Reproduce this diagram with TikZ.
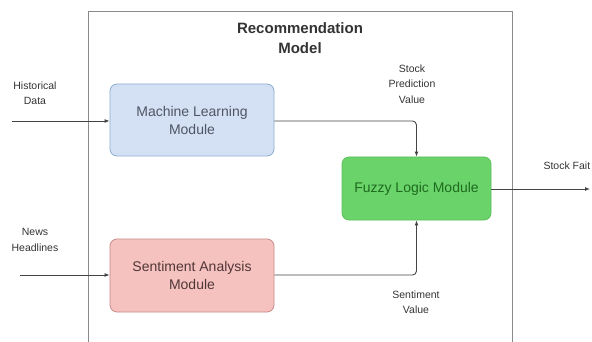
\documentclass[tikz,border=0pt]{standalone}
\usepackage{fontspec}
\setmainfont{Liberation Sans}
\usetikzlibrary{arrows.meta}
\definecolor{mlfill}{HTML}{D4E1F5}
\definecolor{mldraw}{HTML}{8FA9CF}
\definecolor{safill}{HTML}{F5C2C0}
\definecolor{sadraw}{HTML}{C98A88}
\definecolor{flfill}{HTML}{6AD46A}
\definecolor{fldraw}{HTML}{5CBF5C}
\definecolor{fltext}{HTML}{1E6A1E}
\definecolor{boxtext}{HTML}{4F5563}
\definecolor{frame}{HTML}{8A8A8A}
\definecolor{wire}{HTML}{444444}
\tikzset{
  modbox/.style={rounded corners=7pt, line width=0.8pt, minimum width=164pt, align=center, font=\fontsize{14}{18}\selectfont, text=boxtext},
  lbl/.style={font=\fontsize{10.5}{15.5}\selectfont, align=center, text=black!80},
  wireline/.style={draw=wire, line width=0.9pt, -{Latex[length=5pt,width=4pt]}, rounded corners=4pt},
}
\begin{document}
\begin{tikzpicture}[x=1pt,y=-1pt]
\useasboundingbox (0,0) rectangle (592,342);
% frame (bottom edge outside picture)
\draw[frame, line width=1pt] (88,350) -- (88,12) -- (512,12) -- (512,350);
\node[font=\bfseries\fontsize{15}{20}\selectfont, align=center, text=black!80] (title) at (300,38) {Recommendation\\Model};
% modules
\node[modbox, fill=mlfill, draw=mldraw, minimum height=72pt] (ml) at (192,120) {Machine Learning\\Module};
\node[modbox, fill=safill, draw=sadraw, minimum height=73pt, text=black!60!sadraw] (sa) at (192,275.5) {Sentiment Analysis\\Module};
\node[modbox, fill=flfill, draw=fldraw, minimum width=149pt, minimum height=63pt, text=fltext] (fl) at (416.5,188.5) {Fuzzy Logic Module};
% labels
\node[lbl] (hd) at (35,93) {Historical\\Data};
\node[lbl] (nh) at (35,240) {News\\Headlines};
\node[lbl] (spv) at (412,84) {Stock\\Prediction\\Value};
\node[lbl] (sv) at (416,302) {Sentiment\\Value};
\node[lbl, anchor=west] (sf) at (540,166) {Stock Fait};
% free ends
\coordinate (hdin) at (12,121);
\coordinate (nhin) at (20,275);
\coordinate (out) at (590,189);
% connectors
\draw[wireline] (hdin) -- (ml.west |- hdin);
\draw[wireline] (nhin) -- (sa.west |- nhin);
\draw[wireline] (ml.east |- 0,121) -| (fl.north);
\draw[wireline] (sa.east |- 0,275) -| (fl.south);
\draw[wireline] (fl.east |- out) -- (out);
\end{tikzpicture}
\end{document}
